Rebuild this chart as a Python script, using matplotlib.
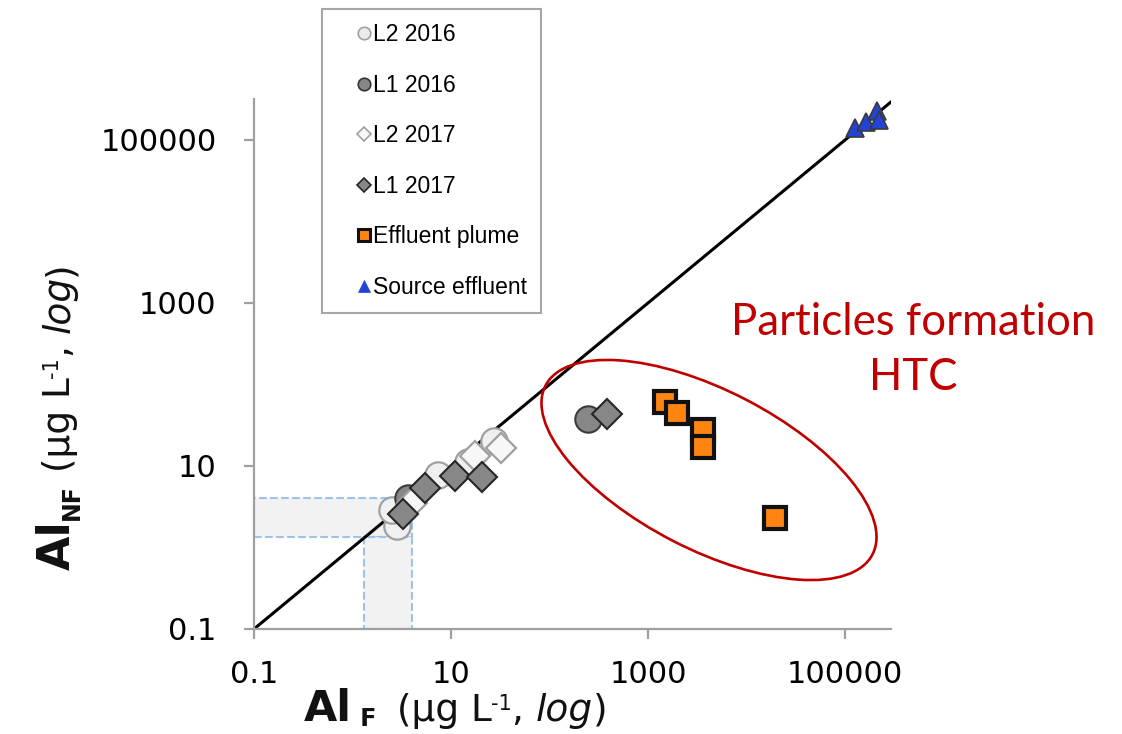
import matplotlib
matplotlib.use("Agg")
import matplotlib.pyplot as plt
from matplotlib.lines import Line2D
from matplotlib.patches import Rectangle, Ellipse
from matplotlib.ticker import FixedLocator, FixedFormatter, NullLocator

# ---------------- data ----------------
series_names = ["L2 2016", "L1 2016", "L2 2017", "L1 2017", "Effluent plume", "Source effluent"]

l2_2016_x = [2.83, 2.52, 7.38, 14.9, 27.3]
l2_2016_y = [1.84, 2.88, 7.76, 11.2, 20.3]

l1_2016_x = [3.66, 246]
l1_2016_y = [4.05, 37.7]

l2_2017_x = [4.02, 17.5, 32.2]
l2_2017_y = [3.52, 13.3, 16.6]

l1_2017_x = [3.26, 5.45, 11.0, 20.6, 384]
l1_2017_y = [2.58, 5.37, 7.54, 7.33, 43.5]

plume_x = [1489, 1968, 3615, 3615, 19460]
plume_y = [61.0, 44.7, 27.7, 17.1, 2.30]

source_x = [126500, 163300, 211300, 221300]
source_y = [140300, 166300, 227000, 175900]

tick_values = [0.1, 10, 1000, 100000]
tick_labels = ["0.1", "10", "1000", "100000"]

x_limits = [0.1, 10 ** 5.467]
y_limits = [0.1, 10 ** 5.503]
one_to_one = [0.1, 10 ** 5.6]

band_x = [1.3, 4.0]
band_y = [1.35, 4.05]

# ---------------- figure ----------------
W, H = 1122, 734
fig = plt.figure(figsize=(W / 100, H / 100), dpi=100)
fig.patch.set_facecolor("white")
ax = fig.add_axes([254 / W, 1 - 629 / H, (891 - 254) / W, (629 - 99) / H])
ax.set_xscale("log")
ax.set_yscale("log")
ax.set_xlim(*x_limits)
ax.set_ylim(*y_limits)

# shaded dashed bands
band_kw = dict(facecolor="#f2f2f2", edgecolor="#9dc3e6", linestyle="--", linewidth=1.5, zorder=1)
ax.add_patch(Rectangle((x_limits[0], band_y[0]), band_x[1] - x_limits[0], band_y[1] - band_y[0], **band_kw))
ax.add_patch(Rectangle((band_x[0], y_limits[0]), band_x[1] - band_x[0], band_y[0] - y_limits[0], **band_kw))

# 1:1 line
ax.plot(one_to_one, one_to_one, color="black", linewidth=2.2, zorder=2)

# series
ax.plot(l2_2016_x, l2_2016_y, ls="none", marker="o", ms=19, mfc="#f0f0f0", mec="#a0a0a0", mew=1.6, zorder=3)
ax.plot(l1_2016_x, l1_2016_y, ls="none", marker="o", ms=19, mfc="#878787", mec="#3a3a3a", mew=1.5, zorder=4)
ax.plot(l2_2017_x, l2_2017_y, ls="none", marker="D", ms=15, mfc="#f7f7f7", mec="#a0a0a0", mew=1.6, zorder=5)
ax.plot(l1_2017_x, l1_2017_y, ls="none", marker="D", ms=15, mfc="#878787", mec="#262626", mew=1.5, zorder=6)
ax.plot(plume_x, plume_y, ls="none", marker="s", ms=16.5, mfc="#ff8512", mec="#111111", mew=3, zorder=7)
ax.plot(source_x, source_y, ls="none", marker="^", ms=13, mfc="#2343d6", mec="#3a3a3a", mew=1.2, zorder=8)

# axes styling
for side in ["top", "right"]:
    ax.spines[side].set_visible(False)
for side in ["left", "bottom"]:
    ax.spines[side].set_color("#a0a0a0")
    ax.spines[side].set_linewidth(1.6)
for axis in (ax.xaxis, ax.yaxis):
    axis.set_major_locator(FixedLocator(tick_values))
    axis.set_major_formatter(FixedFormatter(tick_labels))
    axis.set_minor_locator(NullLocator())
ax.tick_params(axis="both", which="major", direction="out", length=7, width=1.6,
               color="#a0a0a0", labelsize=22, labelcolor="#000000")
ax.tick_params(axis="y", pad=20)
ax.tick_params(axis="x", pad=15)
for lab in ax.get_xticklabels() + ax.get_yticklabels():
    lab.set_fontfamily("DejaVu Sans")

# legend with proxy handles
proxies = [
    Line2D([], [], ls="none", marker="o", ms=9, mfc="#ececec", mec="#a0a0a0", mew=1.2),
    Line2D([], [], ls="none", marker="o", ms=9, mfc="#878787", mec="#333333", mew=1.2),
    Line2D([], [], ls="none", marker="D", ms=7, mfc="#f7f7f7", mec="#a0a0a0", mew=1.2),
    Line2D([], [], ls="none", marker="D", ms=7, mfc="#878787", mec="#262626", mew=1.2),
    Line2D([], [], ls="none", marker="s", ms=9, mfc="#ff8512", mec="#111111", mew=2.2),
    Line2D([], [], ls="none", marker="^", ms=9, mfc="#2343d6", mec="#2343d6", mew=0.5),
]
leg = fig.legend(proxies, series_names, loc="upper left", bbox_to_anchor=(322 / W, 1 - 9 / H),
                 bbox_transform=fig.transFigure, borderaxespad=0, frameon=True, fancybox=False,
                 framealpha=1, edgecolor="#a6a6a6", handlelength=2.4, handletextpad=-0.8,
                 labelspacing=1.2, borderpad=0.62,
                 prop={"family": "Liberation Sans", "size": 16.5})
leg.get_frame().set_linewidth(1.5)


# ---------------- axis labels built from pieces ----------------
def chain(pieces, x0, y0, rotation):
    prev = None
    made = []
    for text, size, weight, style, off in pieces:
        if rotation == 0:
            if prev is None:
                xyc, xy = "figure pixels", (x0, y0 + off)
            else:
                xyc, xy = (prev, "figure pixels"), (1, y0 + off)
        else:
            if prev is None:
                xyc, xy = "figure pixels", (x0 - off, y0)
            else:
                xyc, xy = ("figure pixels", prev), (x0 - off, 1)
        t = ax.annotate(text, xy=xy, xycoords=xyc, fontsize=size, fontweight=weight,
                        fontstyle=style, rotation=rotation, rotation_mode="anchor",
                        ha="left", va="baseline", annotation_clip=False,
                        color="#111111", fontfamily="DejaVu Sans")
        made.append(t)
        prev = t
    return made


x_label_pieces = [
    ("Al", 31, "bold", "normal", 0),
    (" F ", 17, "bold", "normal", -5),
    (" (µg L", 27, "normal", "normal", 0),
    ("-1", 15, "normal", "normal", 11),
    (", ", 27, "normal", "normal", 0),
    ("log", 27, "normal", "italic", 0),
    (")", 27, "normal", "normal", 0),
]
y_label_pieces = [
    ("Al", 32, "bold", "normal", 0),
    ("NF", 17, "bold", "normal", -9),
    (" (µg L", 27, "normal", "normal", 0),
    ("-1", 15, "normal", "normal", 12),
    (", ", 27, "normal", "normal", 0),
    ("log", 27, "normal", "italic", 0),
    (")", 27, "normal", "normal", 0),
]
chain(x_label_pieces, 304, 13, 0)
chain(y_label_pieces, 70, H - 570, 90)

# ---------------- annotation ----------------
fig.add_artist(Ellipse((7.09, (H - 470) / 100), width=3.68, height=1.59, angle=-27.3,
                       transform=fig.dpi_scale_trans, fill=False, edgecolor="#c00000",
                       linewidth=1.9))
fig.text(913 / W, 1 - 335 / H, "Particles formation", fontfamily="Lato", fontsize=31.5,
         color="#c00000", ha="center", va="baseline")
fig.text(913 / W, 1 - 390 / H, "HTC", fontfamily="Lato", fontsize=31.5,
         color="#c00000", ha="center", va="baseline")

fig.savefig("out.png", dpi=100)
